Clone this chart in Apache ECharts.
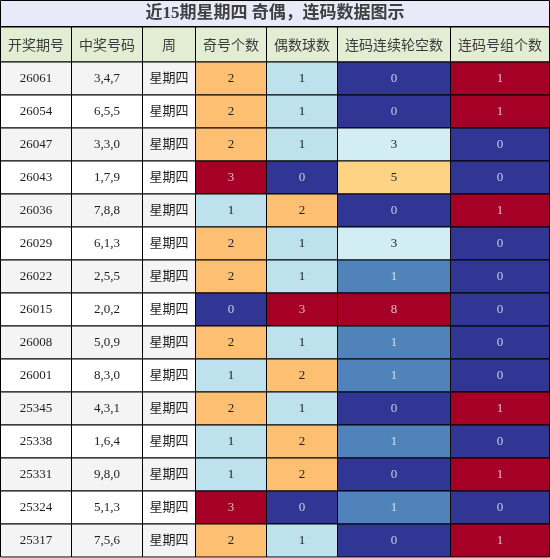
<!DOCTYPE html>
<html><head><meta charset="utf-8">
<script src="https://cdn.jsdelivr.net/npm/echarts@6/dist/echarts.min.js"></script>
<style>html,body{margin:0;padding:0;background:#fff}#c{width:550px;height:558px}</style>
</head><body><div id="c"></div>
<script>
// ---- data ----
const titleText = '近15期星期四 奇偶，连码数据图示';
const headers = ['开奖期号','中奖号码','周','奇号个数','偶数球数','连码连续轮空数','连码号组个数'];
const periods = ['26061','26054','26047','26043','26036','26029','26022','26015','26008','26001','25345','25338','25331','25324','25317'];
const numbers = ['3,4,7','6,5,5','3,3,0','1,7,9','7,8,8','6,1,3','2,5,5','2,0,2','5,0,9','8,3,0','4,3,1','1,6,4','9,8,0','5,1,3','7,5,6'];
const weekdays = ['星期四','星期四','星期四','星期四','星期四','星期四','星期四','星期四','星期四','星期四','星期四','星期四','星期四','星期四','星期四'];
const oddCounts = [2,2,2,3,1,2,2,0,2,1,2,1,1,3,2];
const evenCounts = [1,1,1,0,2,1,1,3,1,2,1,2,2,0,1];
const gapCounts = [0,0,3,5,0,3,1,8,1,1,0,1,0,1,0];
const groupCounts = [1,1,0,0,1,0,0,0,0,0,1,0,1,0,1];

// ---- layout ----
const colEdges = [0.5, 71.5, 142.5, 195.5, 266.5, 337.5, 450.5, 549.5];
const titleH = 27, headH = 35, rowH = 33;
function rowTop(r){ if (r === -2) return 0.5; if (r === -1) return titleH; return titleH + headH + r * rowH; }
function rowBot(r){ if (r === -2) return titleH; if (r === -1) return titleH + headH; return titleH + headH + (r + 1) * rowH; }
const palette = ['#313695','#4575b4','#74add1','#abd9e9','#e0f3f8','#ffffbf','#fee090','#fdae61','#f46d43','#d73027','#a50026'];
const serifFont = "'Liberation Serif','Noto Sans CJK SC',serif";

// plain cells: title, headers, first three columns
const plainCells = [];
plainCells.push({c0:0, c1:7, r:-2, text:titleText, kind:'title'});
headers.forEach((h,i)=>plainCells.push({c0:i, c1:i+1, r:-1, text:h, kind:'head'}));
const textCols = [periods, numbers, weekdays];
textCols.forEach((arr,ci)=>arr.forEach((t,ri)=>plainCells.push({c0:ci, c1:ci+1, r:ri, text:t, kind:'body'})));

const colored = [oddCounts, evenCounts, gapCounts, groupCounts];

function plainRender(params, api){
  const d = plainCells[params.dataIndex];
  const p0 = api.coord([colEdges[d.c0], rowTop(d.r)]);
  const p1 = api.coord([colEdges[d.c1], rowBot(d.r)]);
  let fill = '#ffffff';
  if (d.kind === 'title') fill = '#e8e9f9';
  else if (d.kind === 'head') fill = '#e3edd3';
  else fill = (d.r % 2 === 0) ? '#f4f4f4' : '#ffffff';
  let font, color;
  if (d.kind === 'title') { font = "bold 17px " + serifFont; color = '#404040'; }
  else if (d.kind === 'head') { font = "14px 'Noto Sans CJK SC',sans-serif"; color = '#3c3c3c'; }
  else { font = "13px " + serifFont; color = '#1e1e1e'; }
  const children = [{
    type:'rect', shape:{x:p0[0], y:p0[1], width:p1[0]-p0[0], height:p1[1]-p0[1]},
    style:{fill:fill, stroke:'#000', lineWidth:1}
  },{
    type:'text', x:(p0[0]+p1[0])/2, y:(p0[1]+p1[1])/2,
    style:{text:d.text, font:font, fill:color, align:'center', verticalAlign:'middle'}
  }];
  if (d.kind === 'title') {
    children.push({type:'line', shape:{x1:p0[0], y1:p1[1], x2:p1[0], y2:p1[1]}, style:{stroke:'#000', lineWidth:2.2}});
  }
  return {type:'group', children:children};
}

function coloredRender(params, api){
  const c = api.value(0), r = api.value(1), v = api.value(2);
  const p0 = api.coord([colEdges[c], rowTop(r)]);
  const p1 = api.coord([colEdges[c+1], rowBot(r)]);
  const fill = api.visual('color');
  const rgb = echarts.color.parse(fill) || [255,255,255,1];
  const lum = (0.299*rgb[0] + 0.587*rgb[1] + 0.114*rgb[2]) / 255;
  const tcol = lum < 0.55 ? 'rgba(255,255,255,0.72)' : '#222';
  return {type:'group', children:[{
    type:'rect', shape:{x:p0[0], y:p0[1], width:p1[0]-p0[0], height:p1[1]-p0[1]},
    style:{fill:fill, stroke:'#000', lineWidth:1}
  },{
    type:'text', x:(p0[0]+p1[0])/2, y:(p0[1]+p1[1])/2,
    style:{text:String(v), font:"13px " + serifFont, fill:tcol, align:'center', verticalAlign:'middle'}
  }]};
}

const series = [{
  type:'custom', renderItem:plainRender, data:plainCells.map(d=>[d.c0, d.r]), silent:true, animation:false
}];
const visualMaps = [];
colored.forEach((arr, k)=>{
  series.push({
    type:'custom', renderItem:coloredRender, silent:true, animation:false,
    data:arr.map((v, ri)=>[k+3, ri, v])
  });
  visualMaps.push({
    type:'continuous', show:false, seriesIndex:k+1, dimension:2,
    min:0, max:Math.max.apply(null, arr), inRange:{color:palette}
  });
});

const chart = echarts.init(document.getElementById('c'), null, {renderer:'canvas'});
chart.setOption({
  animation:false,
  backgroundColor:'#ffffff',
  grid:{left:0, right:0, top:0, bottom:0},
  xAxis:{type:'value', min:0, max:550, show:false},
  yAxis:{type:'value', min:0, max:558, inverse:true, show:false},
  visualMap:visualMaps,
  series:series
});
</script>
</body></html>
